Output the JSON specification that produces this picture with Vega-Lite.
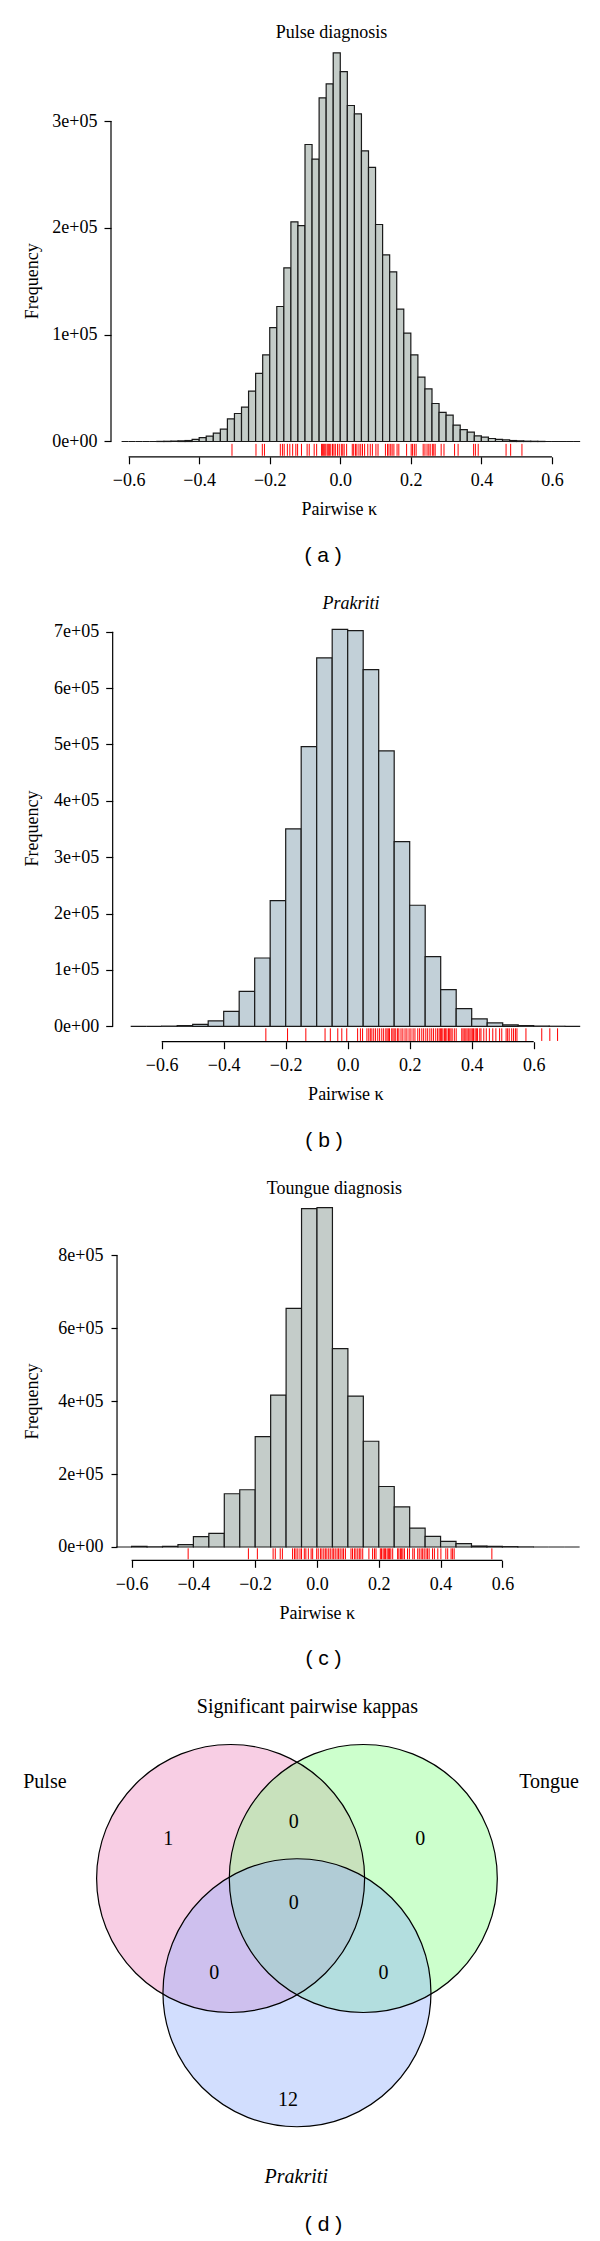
{
  "$schema": "https://vega.github.io/schema/vega-lite/v6.json",
  "background": "white",
  "padding": {"top": 24, "left": 23, "right": 5, "bottom": 3},
  "spacing": 155,
  "bounds": "flush",
  "config": {
    "view": {"stroke": null},
    "font": "Liberation Serif",
    "axis": {"labelFont": "Liberation Serif", "labelFontSize": 18, "labelColor": "black", "titleFont": "Liberation Serif", "titleFontSize": 18, "titleFontWeight": "normal", "titleColor": "black", "tickColor": "black", "tickWidth": 1.2, "grid": false, "labelOverlap": false, "labelFlush": false, "domain": false},
    "title": {"font": "Liberation Serif", "fontSize": 18, "fontWeight": "normal", "color": "black", "anchor": "middle", "frame": "group", "baseline": "middle"}
  },
  "datasets": {
    "bins_a": [
      {"start": -0.62, "end": -0.60, "count": 0}, {"start": -0.60, "end": -0.58, "count": 0}, {"start": -0.58, "end": -0.56, "count": 0}, {"start": -0.56, "end": -0.54, "count": 0}, {"start": -0.54, "end": -0.52, "count": 0},
      {"start": -0.52, "end": -0.50, "count": 100}, {"start": -0.50, "end": -0.48, "count": 200}, {"start": -0.48, "end": -0.46, "count": 300}, {"start": -0.46, "end": -0.44, "count": 600}, {"start": -0.44, "end": -0.42, "count": 900},
      {"start": -0.42, "end": -0.40, "count": 1900}, {"start": -0.40, "end": -0.38, "count": 3700}, {"start": -0.38, "end": -0.36, "count": 5000}, {"start": -0.36, "end": -0.34, "count": 7800}, {"start": -0.34, "end": -0.32, "count": 11500},
      {"start": -0.32, "end": -0.30, "count": 21200}, {"start": -0.30, "end": -0.28, "count": 26200}, {"start": -0.28, "end": -0.26, "count": 32100}, {"start": -0.26, "end": -0.24, "count": 47100}, {"start": -0.24, "end": -0.22, "count": 63700},
      {"start": -0.22, "end": -0.20, "count": 81100}, {"start": -0.20, "end": -0.18, "count": 106700}, {"start": -0.18, "end": -0.16, "count": 126400}, {"start": -0.16, "end": -0.14, "count": 162600}, {"start": -0.14, "end": -0.12, "count": 205700},
      {"start": -0.12, "end": -0.10, "count": 202200}, {"start": -0.10, "end": -0.08, "count": 278100}, {"start": -0.08, "end": -0.06, "count": 264400}, {"start": -0.06, "end": -0.04, "count": 321800}, {"start": -0.04, "end": -0.02, "count": 334900},
      {"start": -0.02, "end": 0.0, "count": 363900}, {"start": 0.0, "end": 0.02, "count": 346400}, {"start": 0.02, "end": 0.04, "count": 314600}, {"start": 0.04, "end": 0.06, "count": 306800}, {"start": 0.06, "end": 0.08, "count": 272200},
      {"start": 0.08, "end": 0.10, "count": 256600}, {"start": 0.10, "end": 0.12, "count": 203200}, {"start": 0.12, "end": 0.14, "count": 174800}, {"start": 0.14, "end": 0.16, "count": 158900}, {"start": 0.16, "end": 0.18, "count": 123900},
      {"start": 0.18, "end": 0.20, "count": 101400}, {"start": 0.20, "end": 0.22, "count": 81100}, {"start": 0.22, "end": 0.24, "count": 60200}, {"start": 0.24, "end": 0.26, "count": 49300}, {"start": 0.26, "end": 0.28, "count": 35600},
      {"start": 0.28, "end": 0.30, "count": 27200}, {"start": 0.30, "end": 0.32, "count": 24700}, {"start": 0.32, "end": 0.34, "count": 15300}, {"start": 0.34, "end": 0.36, "count": 11200}, {"start": 0.36, "end": 0.38, "count": 8700},
      {"start": 0.38, "end": 0.40, "count": 5300}, {"start": 0.40, "end": 0.42, "count": 4100}, {"start": 0.42, "end": 0.44, "count": 2800}, {"start": 0.44, "end": 0.46, "count": 1900}, {"start": 0.46, "end": 0.48, "count": 1600},
      {"start": 0.48, "end": 0.50, "count": 900}, {"start": 0.50, "end": 0.52, "count": 600}, {"start": 0.52, "end": 0.54, "count": 300}, {"start": 0.54, "end": 0.56, "count": 200}, {"start": 0.56, "end": 0.58, "count": 100},
      {"start": 0.58, "end": 0.60, "count": 0}, {"start": 0.60, "end": 0.62, "count": 0}, {"start": 0.62, "end": 0.64, "count": 0}, {"start": 0.64, "end": 0.66, "count": 0}, {"start": 0.66, "end": 0.68, "count": 0}
    ],
    "bins_b": [
      {"start": -0.70, "end": -0.65, "count": 0}, {"start": -0.65, "end": -0.60, "count": 0}, {"start": -0.60, "end": -0.55, "count": 300}, {"start": -0.55, "end": -0.50, "count": 1200}, {"start": -0.50, "end": -0.45, "count": 3500},
      {"start": -0.45, "end": -0.40, "count": 9500}, {"start": -0.40, "end": -0.35, "count": 26600}, {"start": -0.35, "end": -0.30, "count": 62100}, {"start": -0.30, "end": -0.25, "count": 121200}, {"start": -0.25, "end": -0.20, "count": 222900},
      {"start": -0.20, "end": -0.15, "count": 350100}, {"start": -0.15, "end": -0.10, "count": 496100}, {"start": -0.10, "end": -0.05, "count": 653500}, {"start": -0.05, "end": 0.0, "count": 704300}, {"start": 0.0, "end": 0.05, "count": 701900},
      {"start": 0.05, "end": 0.10, "count": 632800}, {"start": 0.10, "end": 0.15, "count": 488500}, {"start": 0.15, "end": 0.20, "count": 327600}, {"start": 0.20, "end": 0.25, "count": 214700}, {"start": 0.25, "end": 0.30, "count": 123600},
      {"start": 0.30, "end": 0.35, "count": 65000}, {"start": 0.35, "end": 0.40, "count": 31300}, {"start": 0.40, "end": 0.45, "count": 13000}, {"start": 0.45, "end": 0.50, "count": 5900}, {"start": 0.50, "end": 0.55, "count": 2400},
      {"start": 0.55, "end": 0.60, "count": 1200}, {"start": 0.60, "end": 0.65, "count": 400}, {"start": 0.65, "end": 0.70, "count": 100}, {"start": 0.70, "end": 0.75, "count": 0}
    ],
    "bins_c": [
      {"start": -0.65, "end": -0.60, "count": 0}, {"start": -0.60, "end": -0.55, "count": 1800}, {"start": -0.55, "end": -0.50, "count": 500}, {"start": -0.50, "end": -0.45, "count": 1800}, {"start": -0.45, "end": -0.40, "count": 6400},
      {"start": -0.40, "end": -0.35, "count": 28300}, {"start": -0.35, "end": -0.30, "count": 37500}, {"start": -0.30, "end": -0.25, "count": 146000}, {"start": -0.25, "end": -0.20, "count": 157000}, {"start": -0.20, "end": -0.15, "count": 302500},
      {"start": -0.15, "end": -0.10, "count": 416800}, {"start": -0.10, "end": -0.05, "count": 654500}, {"start": -0.05, "end": 0.0, "count": 928000}, {"start": 0.0, "end": 0.05, "count": 931000}, {"start": 0.05, "end": 0.10, "count": 544000},
      {"start": 0.10, "end": 0.15, "count": 414000}, {"start": 0.15, "end": 0.20, "count": 290000}, {"start": 0.20, "end": 0.25, "count": 166000}, {"start": 0.25, "end": 0.30, "count": 110000}, {"start": 0.30, "end": 0.35, "count": 52000},
      {"start": 0.35, "end": 0.40, "count": 29000}, {"start": 0.40, "end": 0.45, "count": 15500}, {"start": 0.45, "end": 0.50, "count": 9000}, {"start": 0.50, "end": 0.55, "count": 2700}, {"start": 0.55, "end": 0.60, "count": 1800},
      {"start": 0.60, "end": 0.65, "count": 1000}, {"start": 0.65, "end": 0.70, "count": 300}, {"start": 0.70, "end": 0.75, "count": 0}, {"start": 0.75, "end": 0.80, "count": 0}, {"start": 0.80, "end": 0.85, "count": 0}
    ],
    "rug_a": [
      {"k": -0.307}, {"k": -0.239}, {"k": -0.221}, {"k": -0.215}, {"k": -0.170}, {"k": -0.164}, {"k": -0.159}, {"k": -0.150}, {"k": -0.143}, {"k": -0.135},
      {"k": -0.126}, {"k": -0.121}, {"k": -0.110}, {"k": -0.094}, {"k": -0.088}, {"k": -0.074}, {"k": -0.067}, {"k": -0.053}, {"k": -0.050}, {"k": -0.047},
      {"k": -0.044}, {"k": -0.041}, {"k": -0.037}, {"k": -0.034}, {"k": -0.031}, {"k": -0.027}, {"k": -0.022}, {"k": -0.018}, {"k": -0.014}, {"k": -0.008},
      {"k": -0.003}, {"k": 0.003}, {"k": 0.007}, {"k": 0.011}, {"k": 0.018}, {"k": 0.034}, {"k": 0.038}, {"k": 0.043}, {"k": 0.047}, {"k": 0.053},
      {"k": 0.058}, {"k": 0.063}, {"k": 0.069}, {"k": 0.078}, {"k": 0.085}, {"k": 0.091}, {"k": 0.101}, {"k": 0.107}, {"k": 0.128}, {"k": 0.134},
      {"k": 0.138}, {"k": 0.143}, {"k": 0.147}, {"k": 0.152}, {"k": 0.161}, {"k": 0.166}, {"k": 0.188}, {"k": 0.201}, {"k": 0.205}, {"k": 0.210},
      {"k": 0.215}, {"k": 0.235}, {"k": 0.240}, {"k": 0.246}, {"k": 0.251}, {"k": 0.255}, {"k": 0.261}, {"k": 0.265}, {"k": 0.269}, {"k": 0.286},
      {"k": 0.294}, {"k": 0.324}, {"k": 0.334}, {"k": 0.378}, {"k": 0.383}, {"k": 0.391}, {"k": 0.470}, {"k": 0.483}, {"k": 0.515}
    ],
    "rug_b": [
      {"k": -0.264}, {"k": -0.194}, {"k": -0.135}, {"k": -0.073}, {"k": -0.056}, {"k": -0.032}, {"k": -0.019}, {"k": -0.003}, {"k": 0.032}, {"k": 0.041},
      {"k": 0.048}, {"k": 0.062}, {"k": 0.068}, {"k": 0.073}, {"k": 0.078}, {"k": 0.084}, {"k": 0.090}, {"k": 0.097}, {"k": 0.103}, {"k": 0.110},
      {"k": 0.116}, {"k": 0.123}, {"k": 0.127}, {"k": 0.131}, {"k": 0.135}, {"k": 0.142}, {"k": 0.146}, {"k": 0.150}, {"k": 0.155}, {"k": 0.161},
      {"k": 0.165}, {"k": 0.172}, {"k": 0.178}, {"k": 0.185}, {"k": 0.191}, {"k": 0.198}, {"k": 0.204}, {"k": 0.211}, {"k": 0.217}, {"k": 0.226},
      {"k": 0.232}, {"k": 0.239}, {"k": 0.245}, {"k": 0.252}, {"k": 0.258}, {"k": 0.265}, {"k": 0.271}, {"k": 0.277}, {"k": 0.284}, {"k": 0.290},
      {"k": 0.295}, {"k": 0.299}, {"k": 0.303}, {"k": 0.307}, {"k": 0.312}, {"k": 0.316}, {"k": 0.320}, {"k": 0.325}, {"k": 0.329}, {"k": 0.333},
      {"k": 0.337}, {"k": 0.344}, {"k": 0.350}, {"k": 0.368}, {"k": 0.372}, {"k": 0.376}, {"k": 0.381}, {"k": 0.385}, {"k": 0.389}, {"k": 0.394},
      {"k": 0.398}, {"k": 0.402}, {"k": 0.406}, {"k": 0.411}, {"k": 0.415}, {"k": 0.419}, {"k": 0.426}, {"k": 0.430}, {"k": 0.439}, {"k": 0.447},
      {"k": 0.457}, {"k": 0.468}, {"k": 0.478}, {"k": 0.490}, {"k": 0.497}, {"k": 0.511}, {"k": 0.516}, {"k": 0.521}, {"k": 0.529}, {"k": 0.535},
      {"k": 0.541}, {"k": 0.546}, {"k": 0.575}, {"k": 0.626}, {"k": 0.652}, {"k": 0.677}
    ],
    "rug_c": [
      {"k": -0.417}, {"k": -0.222}, {"k": -0.193}, {"k": -0.142}, {"k": -0.135}, {"k": -0.119}, {"k": -0.112}, {"k": -0.079}, {"k": -0.073}, {"k": -0.068},
      {"k": -0.062}, {"k": -0.055}, {"k": -0.050}, {"k": -0.041}, {"k": -0.036}, {"k": -0.028}, {"k": -0.019}, {"k": -0.014}, {"k": -0.001}, {"k": 0.004},
      {"k": 0.011}, {"k": 0.016}, {"k": 0.022}, {"k": 0.027}, {"k": 0.032}, {"k": 0.038}, {"k": 0.043}, {"k": 0.049}, {"k": 0.054}, {"k": 0.059},
      {"k": 0.065}, {"k": 0.070}, {"k": 0.075}, {"k": 0.081}, {"k": 0.086}, {"k": 0.092}, {"k": 0.110}, {"k": 0.115}, {"k": 0.121}, {"k": 0.126},
      {"k": 0.132}, {"k": 0.137}, {"k": 0.142}, {"k": 0.148}, {"k": 0.168}, {"k": 0.180}, {"k": 0.186}, {"k": 0.191}, {"k": 0.205}, {"k": 0.209},
      {"k": 0.214}, {"k": 0.218}, {"k": 0.222}, {"k": 0.227}, {"k": 0.231}, {"k": 0.235}, {"k": 0.239}, {"k": 0.245}, {"k": 0.261}, {"k": 0.265},
      {"k": 0.270}, {"k": 0.274}, {"k": 0.278}, {"k": 0.283}, {"k": 0.293}, {"k": 0.299}, {"k": 0.310}, {"k": 0.315}, {"k": 0.326}, {"k": 0.331},
      {"k": 0.337}, {"k": 0.342}, {"k": 0.347}, {"k": 0.353}, {"k": 0.358}, {"k": 0.363}, {"k": 0.374}, {"k": 0.380}, {"k": 0.391}, {"k": 0.401},
      {"k": 0.417}, {"k": 0.423}, {"k": 0.434}, {"k": 0.439}, {"k": 0.444}, {"k": 0.566}
    ],
    "venn_sets": [
      {"set": "Pulse", "cx": -0.497, "cy": 0},
      {"set": "Tongue", "cx": 0.497, "cy": 0},
      {"set": "Prakriti", "cx": 0, "cy": -0.856}
    ],
    "venn_counts": [
      {"region": "Pulse only", "x": -0.965, "y": 0.294, "n": 1},
      {"region": "Pulse & Tongue", "x": -0.024, "y": 0.425, "n": 0},
      {"region": "Tongue only", "x": 0.924, "y": 0.294, "n": 0},
      {"region": "All three", "x": -0.024, "y": -0.186, "n": 0},
      {"region": "Pulse & Prakriti", "x": -0.62, "y": -0.707, "n": 0},
      {"region": "Tongue & Prakriti", "x": 0.649, "y": -0.707, "n": 0},
      {"region": "Prakriti only", "x": -0.067, "y": -1.662, "n": 12}
    ],
    "venn_labels": [
      {"name": "Pulse", "x": -1.888, "y": 0.723},
      {"name": "Tongue", "x": 1.888, "y": 0.723},
      {"name": "Prakriti", "x": -0.005, "y": -2.233}
    ]
  },
  "vconcat": [
    {
      "width": 476.2,
      "height": 415.8,
      "title": {"text": "Pulse diagnosis", "dx": -17.6, "offset": -1},
      "layer": [
        {
          "data": {"name": "bins_a"},
          "mark": {"type": "rect", "fill": "#c4ccc8", "stroke": "#1a1a1a", "strokeWidth": 1.2},
          "encoding": {
            "x": {"field": "start", "type": "quantitative", "scale": {"domain": [-0.65, 0.70], "nice": false, "zero": false},
              "axis": {"values": [-0.6, -0.4, -0.2, 0, 0.2, 0.4, 0.6], "format": ".1f", "tickSize": 7, "labelPadding": 8, "title": "Pairwise κ", "titleX": 227.7, "titleY": 52.5, "titleBaseline": "middle", "titleAlign": "center"}},
            "x2": {"field": "end"},
            "y": {"field": "count", "type": "quantitative", "scale": {"domain": [-14330, 375000], "nice": false, "zero": false},
              "axis": {"values": [0, 100000, 200000, 300000], "labelExpr": "datum.value == 0 ? '0e+00' : format(datum.value / 100000, 'd') + 'e+05'", "tickSize": 7, "labelPadding": 7, "title": "Frequency", "titleX": -79, "titleY": 239.8, "titleBaseline": "middle", "titleAlign": "center", "titleAngle": -90}},
            "y2": {"datum": 0}
          }
        },
        {
          "data": {"name": "rug_a"},
          "mark": {"type": "rule", "color": "#ff0000", "strokeWidth": 1},
          "encoding": {"x": {"field": "k", "type": "quantitative"}, "y": {"datum": -2200}, "y2": {"datum": -13400}}
        },
        {
          "data": {"values": [{}]},
          "mark": {"type": "rule", "color": "black", "strokeWidth": 1.2},
          "encoding": {"x": {"datum": -0.6}, "x2": {"datum": 0.6}, "y": {"datum": -14330}}
        },
        {
          "data": {"values": [{}]},
          "mark": {"type": "rule", "color": "black", "strokeWidth": 1.2},
          "encoding": {"x": {"datum": -0.65}, "y": {"datum": 0}, "y2": {"datum": 300000}}
        },
        {
          "data": {"values": [{}]},
          "mark": {"type": "text", "text": "( a )", "font": "Liberation Sans", "fontSize": 21, "align": "center", "baseline": "middle", "color": "black"},
          "encoding": {"x": {"datum": -0.0488}, "y": {"datum": -107600}}
        }
      ]
    },
    {
      "width": 475.4,
      "height": 429.7,
      "title": {"text": "Prakriti", "fontStyle": "italic", "dx": 2.3, "offset": -1},
      "layer": [
        {
          "data": {"name": "bins_b"},
          "mark": {"type": "rect", "fill": "#c2d0d8", "stroke": "#1a1a1a", "strokeWidth": 1.2},
          "encoding": {
            "x": {"field": "start", "type": "quantitative", "scale": {"domain": [-0.7635, 0.77], "nice": false, "zero": false},
              "axis": {"values": [-0.6, -0.4, -0.2, 0, 0.2, 0.4, 0.6], "format": ".1f", "tickSize": 7, "labelPadding": 8, "title": "Pairwise κ", "titleX": 234.4, "titleY": 52.9, "titleBaseline": "middle", "titleAlign": "center"}},
            "x2": {"field": "end"},
            "y": {"field": "count", "type": "quantitative", "scale": {"domain": [-27320, 734970], "nice": false, "zero": false},
              "axis": {"values": [0, 100000, 200000, 300000, 400000, 500000, 600000, 700000], "labelExpr": "datum.value == 0 ? '0e+00' : format(datum.value / 100000, 'd') + 'e+05'", "tickSize": 7, "labelPadding": 7, "offset": -1.7, "title": "Frequency", "titleX": -80.7, "titleY": 216, "titleBaseline": "middle", "titleAlign": "center", "titleAngle": -90}},
            "y2": {"datum": 0}
          }
        },
        {
          "data": {"name": "rug_b"},
          "mark": {"type": "rule", "color": "#ff0000", "strokeWidth": 1},
          "encoding": {"x": {"field": "k", "type": "quantitative"}, "y": {"datum": -3550}, "y2": {"datum": -26000}}
        },
        {
          "data": {"values": [{}]},
          "mark": {"type": "rule", "color": "black", "strokeWidth": 1.2},
          "encoding": {"x": {"datum": -0.6}, "x2": {"datum": 0.6}, "y": {"datum": -27320}}
        },
        {
          "data": {"values": [{}]},
          "mark": {"type": "rule", "color": "black", "strokeWidth": 1.2},
          "encoding": {"x": {"datum": -0.7581}, "y": {"datum": 0}, "y2": {"datum": 700000}}
        },
        {
          "data": {"values": [{}]},
          "mark": {"type": "text", "text": "( b )", "font": "Liberation Sans", "fontSize": 21, "align": "center", "baseline": "middle", "color": "black"},
          "encoding": {"x": {"datum": -0.0765}, "y": {"datum": -202800}}
        }
      ]
    },
    {
      "width": 474.8,
      "height": 363.3,
      "title": {"text": "Toungue diagnosis", "dx": -14.1, "offset": -1},
      "layer": [
        {
          "data": {"name": "bins_c"},
          "mark": {"type": "rect", "fill": "#c4ccc9", "stroke": "#1a1a1a", "strokeWidth": 1.2},
          "encoding": {
            "x": {"field": "start", "type": "quantitative", "scale": {"domain": [-0.6667, 0.87], "nice": false, "zero": false},
              "axis": {"values": [-0.6, -0.4, -0.2, 0, 0.2, 0.4, 0.6], "format": ".1f", "tickSize": 7, "labelPadding": 8, "title": "Pairwise κ", "titleX": 205.7, "titleY": 53.2, "titleBaseline": "middle", "titleAlign": "center"}},
            "x2": {"field": "end"},
            "y": {"field": "count", "type": "quantitative", "scale": {"domain": [-36480, 959950], "nice": false, "zero": false},
              "axis": {"values": [0, 200000, 400000, 600000, 800000], "labelExpr": "datum.value == 0 ? '0e+00' : format(datum.value / 100000, 'd') + 'e+05'", "tickSize": 6, "labelPadding": 8, "offset": -6, "title": "Frequency", "titleX": -85, "titleY": 203.9, "titleBaseline": "middle", "titleAlign": "center", "titleAngle": -90}},
            "y2": {"datum": 0}
          }
        },
        {
          "data": {"name": "rug_c"},
          "mark": {"type": "rule", "color": "#ff0000", "strokeWidth": 1},
          "encoding": {"x": {"field": "k", "type": "quantitative"}, "y": {"datum": -3570}, "y2": {"datum": -33700}}
        },
        {
          "data": {"values": [{}]},
          "mark": {"type": "rule", "color": "black", "strokeWidth": 1.2},
          "encoding": {"x": {"datum": -0.6}, "x2": {"datum": 0.6}, "y": {"datum": -36480}}
        },
        {
          "data": {"values": [{}]},
          "mark": {"type": "rule", "color": "black", "strokeWidth": 1.2},
          "encoding": {"x": {"datum": -0.6472}, "y": {"datum": 0}, "y2": {"datum": 800000}}
        },
        {
          "data": {"values": [{}]},
          "mark": {"type": "text", "text": "( c )", "font": "Liberation Sans", "fontSize": 21, "align": "center", "baseline": "middle", "color": "black"},
          "encoding": {"x": {"datum": 0.021}, "y": {"datum": -308000}}
        }
      ]
    },
    {
      "width": 386.2,
      "height": 410.8,
      "title": {"text": "Significant pairwise kappas", "fontSize": 20, "dx": 3.3, "offset": -1},
      "layer": [
        {
          "data": {"name": "venn_sets"},
          "mark": {"type": "point", "shape": "circle", "filled": true, "size": 71824, "opacity": 1, "fillOpacity": 0.4, "strokeWidth": 0},
          "encoding": {
            "x": {"field": "cx", "type": "quantitative", "scale": {"domain": [-1.393, 1.5], "nice": false, "zero": false}, "axis": null},
            "y": {"field": "cy", "type": "quantitative", "scale": {"domain": [-1.86, 1.217], "nice": false, "zero": false}, "axis": null},
            "fill": {"field": "set", "type": "nominal", "scale": {"domain": ["Pulse", "Tongue", "Prakriti"], "range": ["#ee85bc", "#80ff80", "#8fadfd"]}, "legend": null}
          }
        },
        {
          "data": {"name": "venn_sets"},
          "mark": {"type": "point", "shape": "circle", "filled": false, "size": 71824, "opacity": 1, "stroke": "black", "strokeWidth": 1.2},
          "encoding": {
            "x": {"field": "cx", "type": "quantitative", "axis": null},
            "y": {"field": "cy", "type": "quantitative", "axis": null}
          }
        },
        {
          "data": {"name": "venn_counts"},
          "mark": {"type": "text", "font": "Liberation Serif", "fontSize": 20, "align": "center", "baseline": "middle", "color": "black"},
          "encoding": {
            "x": {"field": "x", "type": "quantitative", "axis": null},
            "y": {"field": "y", "type": "quantitative", "axis": null},
            "text": {"field": "n", "type": "quantitative"}
          }
        },
        {
          "data": {"name": "venn_labels"},
          "transform": [{"filter": "datum.name != 'Prakriti'"}],
          "mark": {"type": "text", "font": "Liberation Serif", "fontSize": 20, "align": "center", "baseline": "middle", "color": "black"},
          "encoding": {
            "x": {"field": "x", "type": "quantitative", "axis": null},
            "y": {"field": "y", "type": "quantitative", "axis": null},
            "text": {"field": "name", "type": "nominal"}
          }
        },
        {
          "data": {"name": "venn_labels"},
          "transform": [{"filter": "datum.name == 'Prakriti'"}],
          "mark": {"type": "text", "font": "Liberation Serif", "fontSize": 20, "fontStyle": "italic", "align": "center", "baseline": "middle", "color": "black"},
          "encoding": {
            "x": {"field": "x", "type": "quantitative", "axis": null},
            "y": {"field": "y", "type": "quantitative", "axis": null},
            "text": {"field": "name", "type": "nominal"}
          }
        },
        {
          "data": {"values": [{}]},
          "mark": {"type": "text", "text": "( d )", "font": "Liberation Sans", "fontSize": 21, "align": "center", "baseline": "middle", "color": "black"},
          "encoding": {"x": {"datum": 0.199, "axis": null}, "y": {"datum": -2.594, "axis": null}}
        }
      ]
    }
  ]
}
